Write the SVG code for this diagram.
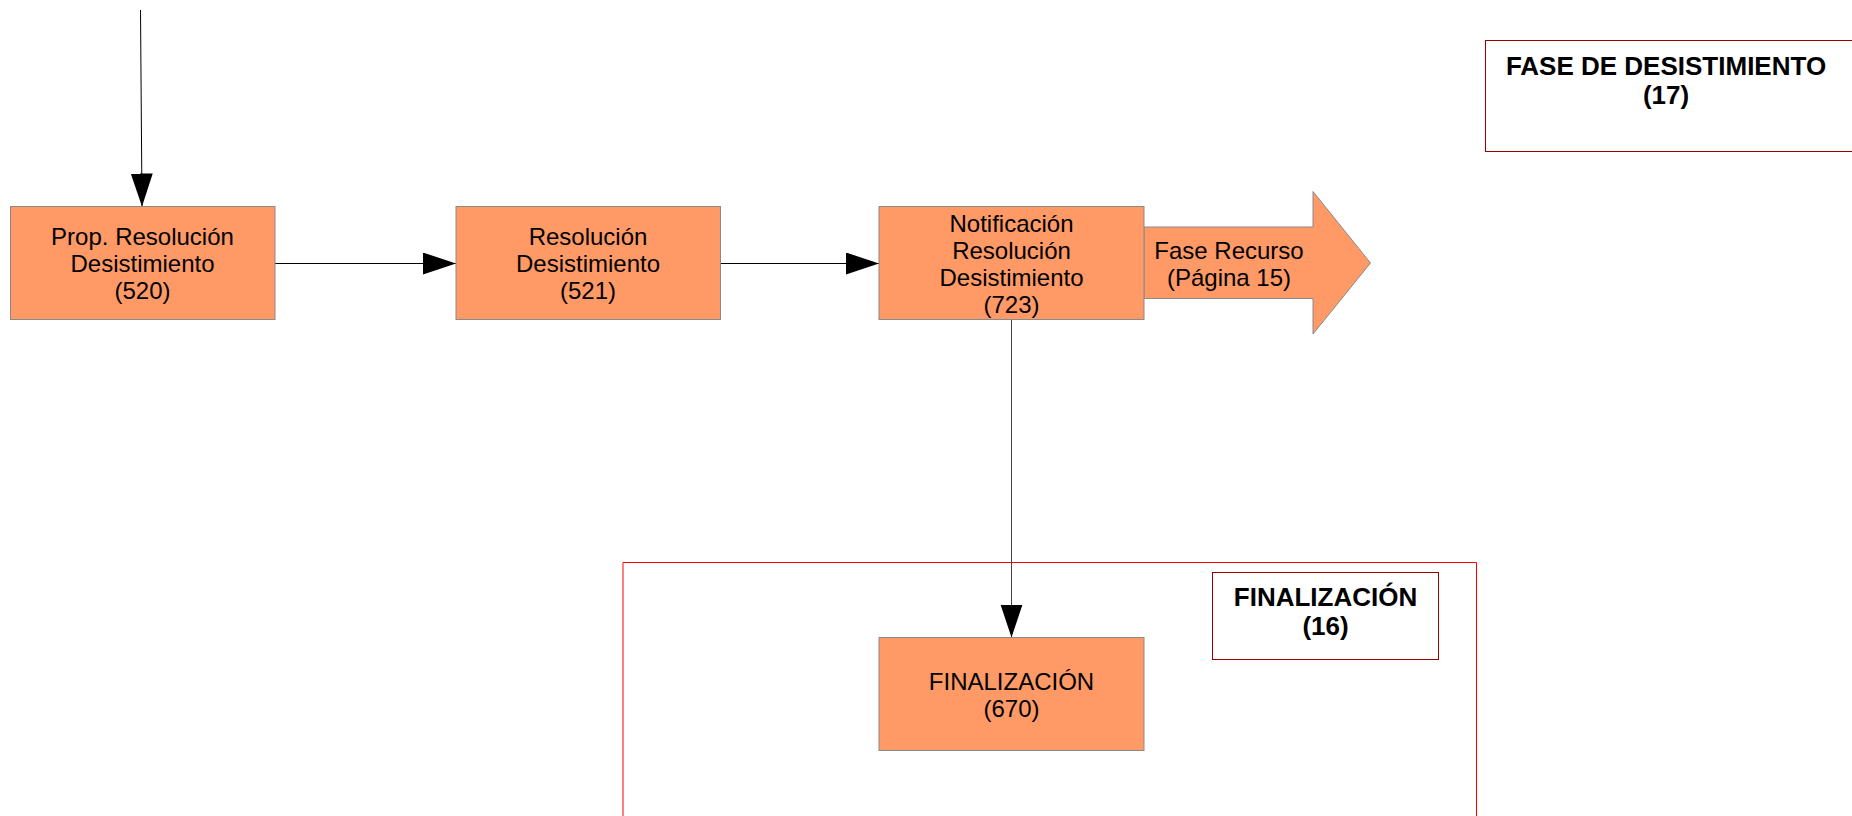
<svg xmlns="http://www.w3.org/2000/svg" width="1852" height="816" viewBox="0 0 1852 816">
<style>
.node{fill:#ff9966;stroke:#8a8a8a;stroke-width:1}
.lbl{font-family:"Liberation Sans",Arial,sans-serif;font-size:24px;fill:#000;text-anchor:middle}
.title{font-family:"Liberation Sans",Arial,sans-serif;font-size:26px;font-weight:bold;fill:#000;text-anchor:middle}
.frame{fill:#fff;stroke:#990000;stroke-width:1}
.conn{stroke:#000;stroke-width:1;fill:none}
</style>
<defs>
<marker id="ah" markerUnits="userSpaceOnUse" markerWidth="34" markerHeight="23" refX="33" refY="11" orient="auto" viewBox="0 0 34 23">
<path d="M0,0 L33,11 L0,22 z" fill="#000"/>
</marker>
</defs>
<rect width="1852" height="816" fill="#fff"/>

<g id="phase-finalizacion-container">
<path d="M623,816 V562.5 H1476.5 V816" fill="none" stroke="#ff0000" stroke-width="1"/>
</g>

<g id="phase-desistimiento-label">
<rect class="frame" x="1485.5" y="40.5" width="380" height="111"/>
<text class="title" x="1666" y="75">FASE DE DESISTIMIENTO</text>
<text class="title" x="1666" y="104">(17)</text>
</g>

<g id="phase-finalizacion-label">
<rect class="frame" x="1212.5" y="572.5" width="226" height="87"/>
<text class="title" x="1325.5" y="606">FINALIZACIÓN</text>
<text class="title" x="1325.5" y="635">(16)</text>
</g>

<g id="connectors">
<line class="conn" x1="140.5" y1="10" x2="142" y2="206.5" marker-end="url(#ah)"/>
<line class="conn" x1="275" y1="263.5" x2="456" y2="263.5" marker-end="url(#ah)"/>
<line class="conn" x1="720.5" y1="263.5" x2="879" y2="263.5" marker-end="url(#ah)"/>
<line x1="1011.5" y1="320" x2="1011.5" y2="637.5" stroke="#444" stroke-width="1" marker-end="url(#ah)"/>
</g>

<g id="fase-recurso">
<polygon class="node" points="1144,227 1313,227 1313,191.5 1370.5,263 1313,334 1313,298.5 1144,298.5"/>
<text class="lbl" x="1229" y="258.5">Fase Recurso</text>
<text class="lbl" x="1229" y="285.5">(Página 15)</text>
</g>

<g id="node-520">
<rect class="node" x="10.5" y="206.5" width="264.5" height="113"/>
<text class="lbl" x="142.5" y="245">Prop. Resolución</text>
<text class="lbl" x="142.5" y="272">Desistimiento</text>
<text class="lbl" x="142.5" y="299">(520)</text>
</g>

<g id="node-521">
<rect class="node" x="456" y="206.5" width="264.5" height="113"/>
<text class="lbl" x="588" y="245">Resolución</text>
<text class="lbl" x="588" y="272">Desistimiento</text>
<text class="lbl" x="588" y="299">(521)</text>
</g>

<g id="node-723">
<rect class="node" x="879" y="206.5" width="265" height="113"/>
<text class="lbl" x="1011.5" y="231.5">Notificación</text>
<text class="lbl" x="1011.5" y="258.5">Resolución</text>
<text class="lbl" x="1011.5" y="285.5">Desistimiento</text>
<text class="lbl" x="1011.5" y="312.5">(723)</text>
</g>

<g id="node-670">
<rect class="node" x="879" y="637.5" width="265" height="113"/>
<text class="lbl" x="1011.5" y="689.5">FINALIZACIÓN</text>
<text class="lbl" x="1011.5" y="716.5">(670)</text>
</g>
</svg>
